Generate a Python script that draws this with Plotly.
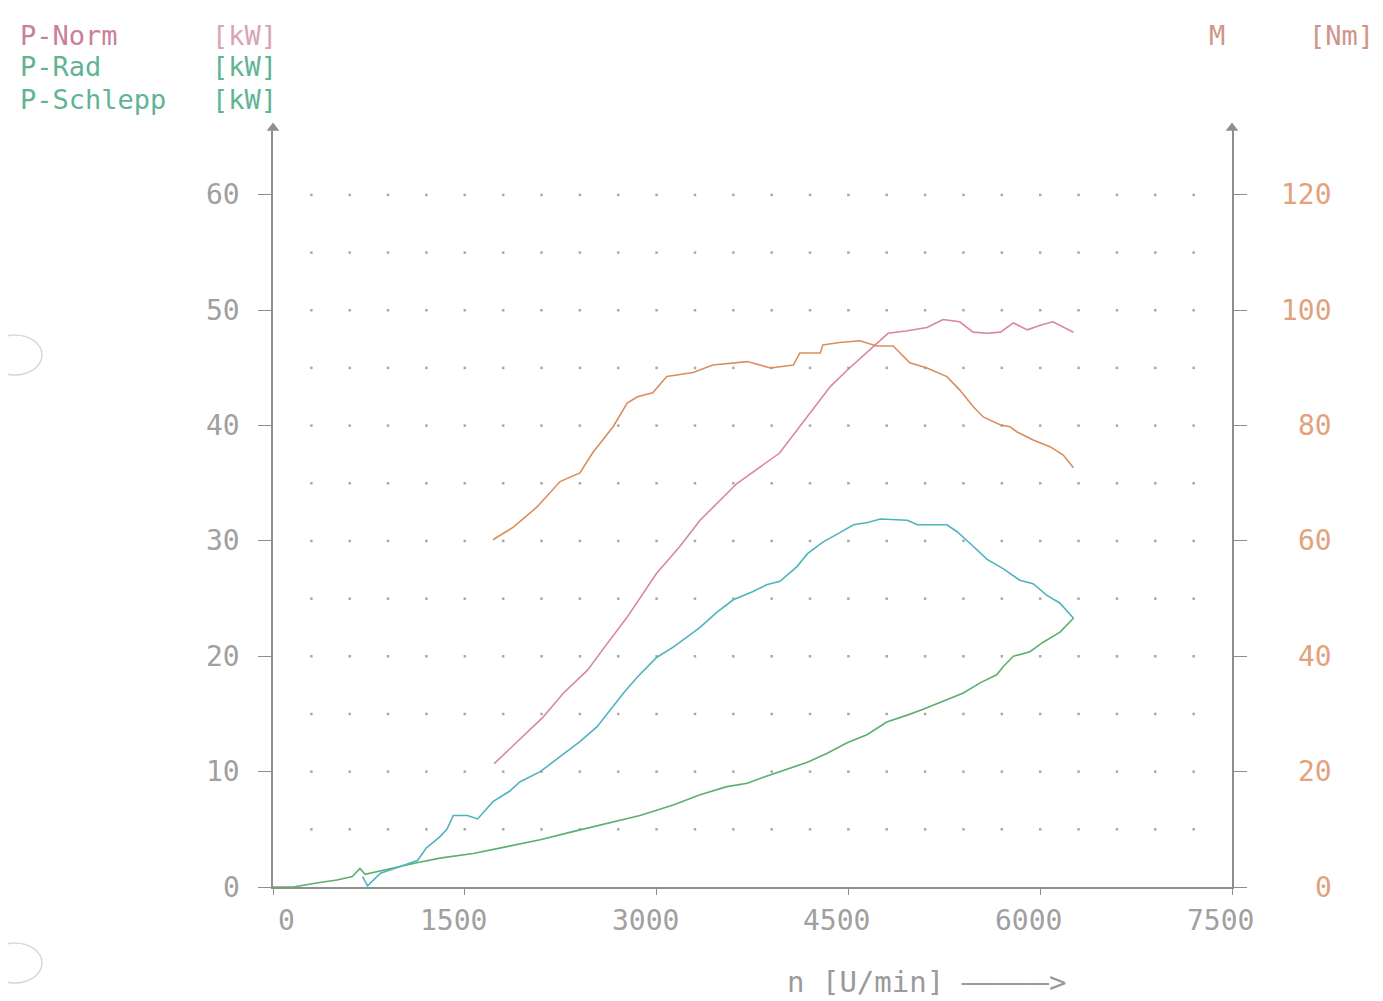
import plotly.graph_objects as go

# ---------------- data ----------------
norm_rpm = [1730, 1990, 2110, 2270, 2460, 2580, 2770, 3000, 3180, 3340, 3630, 3960, 4120, 4360,
            4490, 4670, 4810, 4950, 5115, 5240, 5370, 5475, 5585, 5690, 5790, 5900, 6000, 6100, 6260]
norm_kw = [10.7, 13.4, 14.7, 16.8, 18.8, 20.6, 23.4, 27.2, 29.5, 31.8, 35.0, 37.6, 39.9, 43.4,
           44.8, 46.6, 48.0, 48.2, 48.5, 49.2, 49.0, 48.1, 48.0, 48.1, 48.9, 48.3, 48.7, 49.0, 48.1]

m_rpm = [1720, 1880, 2065, 2245, 2400, 2500, 2660, 2770, 2850, 2970, 3080, 3285, 3440, 3600, 3710,
         3890, 4070, 4120, 4280, 4300, 4430, 4590, 4720, 4850, 4980, 5115, 5270, 5370, 5475, 5555,
         5690, 5765, 5820, 5945, 6080, 6180, 6260]
m_nm = [60.2, 62.4, 65.9, 70.3, 71.8, 75.3, 79.8, 83.9, 85.0, 85.7, 88.5, 89.2, 90.5, 90.9, 91.1,
        90.0, 90.5, 92.6, 92.6, 94.0, 94.4, 94.7, 93.8, 93.8, 90.9, 90.0, 88.5, 86.2, 83.3, 81.5,
        80.1, 79.8, 78.9, 77.5, 76.3, 74.9, 72.7]

rad_rpm = [700, 740, 840, 1000, 1130, 1200, 1300, 1360, 1410, 1520, 1600, 1720, 1850, 1930, 2090,
           2245, 2400, 2535, 2640, 2740, 2850, 3000, 3130, 3340, 3470, 3600, 3750, 3860, 3965, 4100,
           4180, 4300, 4430, 4540, 4650, 4750, 4960, 5040, 5270, 5350, 5450, 5585, 5710, 5840, 5945,
           6050, 6155, 6260]
rad_kw = [0.9, 0.1, 1.2, 1.8, 2.3, 3.4, 4.3, 5.0, 6.2, 6.2, 5.9, 7.4, 8.3, 9.1, 10.0,
          11.3, 12.6, 13.9, 15.4, 16.8, 18.2, 19.9, 20.8, 22.5, 23.8, 24.9, 25.6, 26.2, 26.5, 27.8,
          28.9, 29.9, 30.7, 31.4, 31.6, 31.9, 31.8, 31.4, 31.4, 30.8, 29.8, 28.4, 27.6, 26.6, 26.3,
          25.3, 24.6, 23.3]

schlepp_rpm = [0, 160, 340, 500, 620, 680, 720, 915, 1125, 1305, 1565, 1830, 2090, 2345, 2610, 2870,
               3130, 3340, 3550, 3710, 3830, 3965, 4175, 4335, 4490, 4645, 4800, 4960, 5085, 5215,
               5395, 5530, 5660, 5710, 5790, 5920, 6020, 6155, 6260]
schlepp_kw = [0.0, 0.0, 0.35, 0.6, 0.9, 1.6, 1.1, 1.6, 2.1, 2.5, 2.9, 3.5, 4.1, 4.8, 5.5, 6.2,
              7.1, 8.0, 8.7, 9.0, 9.5, 10.0, 10.8, 11.6, 12.5, 13.2, 14.3, 14.9, 15.4, 16.0,
              16.8, 17.7, 18.4, 19.1, 20.0, 20.4, 21.2, 22.1, 23.3]

x_ticks = [0, 1500, 3000, 4500, 6000, 7500]
x_tick_labels = ["0", "1500", "3000", "4500", "6000", "7500"]
y_ticks = [0, 10, 20, 30, 40, 50, 60]
y_tick_labels = ["0", "10", "20", "30", "40", "50", "60"]
y2_ticks = [0, 20, 40, 60, 80, 100, 120]
y2_tick_labels = ["0", "20", "40", "60", "80", "100", "120"]

grid_x = list(range(300, 7201, 300))
grid_y = list(range(5, 61, 5))

# ---------------- styling ----------------
FONT = "DejaVu Sans Mono"
C_NORM = "#d8879c"
C_M = "#d98e5e"
C_RAD = "#4fb3be"
C_SCH = "#5bb06e"
C_AXIS = "#8c918c"
C_TICK = "#a0a0a0"

YMAX = 65.8
W, H = 1383, 1001
OFF = 8  # page body margin
# target page pixels: left axis 273, right axis 1232, top 128, zero line 887
L = 273 - OFF
R = W - (1232 - OFF)
T = 128 - OFF
B = H - (887 - OFF)

fig = go.Figure()

# grid dots
gx, gy = [], []
for yy in grid_y:
    for xx in grid_x:
        gx.append(xx)
        gy.append(yy)
fig.add_trace(go.Scatter(x=gx, y=gy, mode="markers",
                         marker=dict(size=2.5, color="#a8a8a8", symbol="square"),
                         hoverinfo="skip", showlegend=False))

fig.add_trace(go.Scatter(x=schlepp_rpm, y=schlepp_kw, mode="lines", name="P-Schlepp",
                         line=dict(color=C_SCH, width=1.6), showlegend=False))
fig.add_trace(go.Scatter(x=rad_rpm, y=rad_kw, mode="lines", name="P-Rad",
                         line=dict(color=C_RAD, width=1.6), showlegend=False))
fig.add_trace(go.Scatter(x=norm_rpm, y=norm_kw, mode="lines", name="P-Norm",
                         line=dict(color=C_NORM, width=1.6), showlegend=False))
fig.add_trace(go.Scatter(x=m_rpm, y=m_nm, mode="lines", name="M", yaxis="y2",
                         line=dict(color=C_M, width=1.6), showlegend=False))

# axis arrow heads
fig.add_trace(go.Scatter(x=[0, 7500], y=[YMAX, YMAX], mode="markers",
                         marker=dict(symbol="triangle-up", size=11, color=C_AXIS),
                         cliponaxis=False, hoverinfo="skip", showlegend=False))

ann = []
for v, t in zip(x_ticks, x_tick_labels):
    ann.append(dict(x=v, y=0, xref="x", yref="y", text=t, showarrow=False,
                    xanchor="right", yanchor="middle", xshift=24, yshift=-33,
                    font=dict(family=FONT, size=28, color=C_TICK)))
for v, t in zip(y_ticks, y_tick_labels):
    ann.append(dict(x=0, y=v, xref="x", yref="y", text=t, showarrow=False,
                    xanchor="right", yanchor="middle", xshift=-31,
                    font=dict(family=FONT, size=28, color=C_TICK)))
for v, t in zip(y2_ticks, y2_tick_labels):
    ann.append(dict(x=1, y=v, xref="paper", yref="y2", text=t, showarrow=False,
                    xanchor="right", yanchor="middle", xshift=102,
                    font=dict(family=FONT, size=28, color="#e2a27c")))

def px_x(p):
    return (p - OFF - L) / (W - L - R)

def px_y(p):
    return (H - B - (p - OFF)) / (H - T - B)

legend_rows = [
    ("P-Norm", "#c9809a", "#d9a4b4", 35),
    ("P-Rad", "#5fb494", "#5fb494", 67),
    ("P-Schlepp", "#5fb494", "#5fb494", 99),
]
for name, c1, c2, ypx in legend_rows:
    ann.append(dict(x=px_x(18), y=px_y(ypx), xref="paper", yref="paper", text=name,
                    showarrow=False, xanchor="left", yanchor="middle",
                    font=dict(family=FONT, size=27, color=c1)))
    ann.append(dict(x=px_x(210), y=px_y(ypx), xref="paper", yref="paper", text="[kW]",
                    showarrow=False, xanchor="left", yanchor="middle",
                    font=dict(family=FONT, size=27, color=c2)))
ann.append(dict(x=px_x(1207), y=px_y(35), xref="paper", yref="paper", text="M",
                showarrow=False, xanchor="left", yanchor="middle",
                font=dict(family=FONT, size=27, color="#d09488")))
ann.append(dict(x=px_x(1307), y=px_y(35), xref="paper", yref="paper", text="[Nm]",
                showarrow=False, xanchor="left", yanchor="middle",
                font=dict(family=FONT, size=27, color="#d09488")))
ann.append(dict(x=px_x(785), y=px_y(982), xref="paper", yref="paper", text="n [U/min] —————>",
                showarrow=False, xanchor="left", yanchor="middle",
                font=dict(family=FONT, size=29, color="#9a9a9a")))

# punch-hole arcs at the left edge
shapes = []
for cy in (355, 963):
    shapes.append(dict(type="circle", xref="paper", yref="paper",
                       x0=px_x(-12), x1=px_x(42), y0=px_y(cy + 20), y1=px_y(cy - 20),
                       line=dict(color="#d8d8d8", width=1.5)))

fig.update_layout(
    width=W, height=H,
    margin=dict(l=L, r=R, t=T, b=B),
    paper_bgcolor="white", plot_bgcolor="white",
    annotations=ann, shapes=shapes,
    xaxis=dict(range=[0, 7500], showgrid=False, zeroline=False, showline=True,
               linecolor=C_AXIS, linewidth=1.5, ticks="outside", ticklen=6,
               tickcolor=C_AXIS, tickvals=x_ticks, showticklabels=False),
    yaxis=dict(range=[0, YMAX], showgrid=False, zeroline=False, showline=True,
               linecolor=C_AXIS, linewidth=1.5, ticks="outside", ticklen=13,
               tickcolor=C_AXIS, tickvals=y_ticks, showticklabels=False),
    yaxis2=dict(range=[0, 2 * YMAX], overlaying="y", side="right", showgrid=False,
                zeroline=False, showline=True, linecolor=C_AXIS, linewidth=1.5,
                ticks="outside", ticklen=13, tickcolor=C_AXIS, tickvals=y2_ticks,
                showticklabels=False),
)

fig.write_html("out.html")
